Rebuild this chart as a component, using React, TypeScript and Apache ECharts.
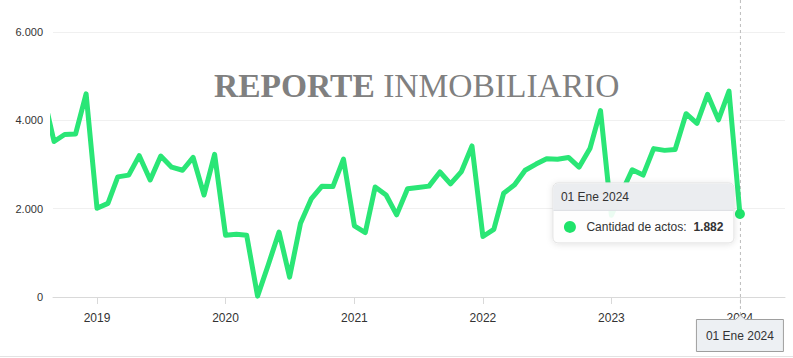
import React, { useEffect, useRef } from "react";
import * as echarts from "echarts";

// Monthly data (YYYY-MM) and values: "Cantidad de actos"
const months: string[] = [
  "2018-08", "2018-09", "2018-10", "2018-11", "2018-12",
  "2019-01", "2019-02", "2019-03", "2019-04", "2019-05", "2019-06", "2019-07", "2019-08", "2019-09", "2019-10", "2019-11", "2019-12",
  "2020-01", "2020-02", "2020-03", "2020-04", "2020-05", "2020-06", "2020-07", "2020-08", "2020-09", "2020-10", "2020-11", "2020-12",
  "2021-01", "2021-02", "2021-03", "2021-04", "2021-05", "2021-06", "2021-07", "2021-08", "2021-09", "2021-10", "2021-11", "2021-12",
  "2022-01", "2022-02", "2022-03", "2022-04", "2022-05", "2022-06", "2022-07", "2022-08", "2022-09", "2022-10", "2022-11", "2022-12",
  "2023-01", "2023-02", "2023-03", "2023-04", "2023-05", "2023-06", "2023-07", "2023-08", "2023-09", "2023-10", "2023-11", "2023-12",
  "2024-01",
];
const actos: number[] = [
  4600, 3520, 3680, 3690, 4600,
  2010, 2120, 2720, 2760, 3200, 2650, 3190, 2940, 2870, 3160, 2310, 3230,
  1400, 1420, 1400, 20, 720, 1470, 450, 1670, 2230, 2510, 2500, 3120,
  1610, 1460, 2490, 2310, 1860, 2450, 2480, 2510, 2830, 2560, 2840, 3420,
  1370, 1530, 2350, 2540, 2870, 3010, 3130, 3120, 3160, 2940, 3360, 4220,
  1850, 2400, 2880, 2760, 3360, 3320, 3340, 4150, 3930, 4590, 4010, 4660,
  1882,
];
const yearTicks: string[] = ["2019", "2020", "2021", "2022", "2023", "2024"];
const seriesName = "Cantidad de actos";
const watermarkBold = "REPORTE";
const watermarkRegular = "INMOBILIARIO";
const tooltipDate = "01 Ene 2024";
const xMinDate = "2018-08-29";
const xMaxDate = "2024-05-08";

const GREEN = "#2ae676";
const MARKER = "#1fe36a";

const toTs = (s: string) => {
  const p = s.split("-").map(Number);
  return Date.UTC(p[0], p[1] - 1, p[2] || 1);
};
const fmtNum = (v: number) =>
  String(Math.round(v)).replace(/\B(?=(\d{3})+(?!\d))/g, ".");

export default function App() {
  const ref = useRef<HTMLDivElement>(null);

  useEffect(() => {
    if (!ref.current) return;
    const chart = echarts.init(ref.current, undefined, { renderer: "svg" });
    const data = months.map((m, i) => [toTs(m), actos[i]]);
    const last = data[data.length - 1];
    const font = "'Liberation Sans', Arial, sans-serif";
    const serif = "'Liberation Serif', 'Times New Roman', serif";
    const yearTs = yearTicks.map((y) => toTs(y + "-01-01"));

    chart.setOption({
      animation: false,
      grid: { left: 53, right: 8, top: 32, bottom: 61, outerBoundsMode: "none" },
      xAxis: {
        type: "value",
        min: toTs(xMinDate),
        max: toTs(xMaxDate),
        axisLine: { show: true, lineStyle: { color: "#d9d9d9", width: 1 } },
        axisTick: {
          show: true,
          length: 7,
          customValues: yearTs,
          lineStyle: { color: "#d9d9d9" },
        },
        axisLabel: {
          customValues: yearTs,
          formatter: (v: number) => String(new Date(v).getUTCFullYear()),
          color: "#333",
          fontSize: 12,
          fontFamily: font,
          margin: 15,
        },
        splitLine: { show: false },
      },
      yAxis: {
        type: "value",
        min: 0,
        max: 6000,
        interval: 2000,
        axisLine: { show: false },
        axisTick: { show: false },
        axisLabel: {
          formatter: (v: number) => fmtNum(v),
          color: "#333",
          fontSize: 11,
          fontFamily: font,
          margin: 10,
          padding: [0, 0, 3, 0],
        },
        splitLine: { lineStyle: { color: "#f0f0f0", width: 1 } },
      },
      series: [
        {
          name: seriesName,
          type: "line",
          data,
          showSymbol: false,
          clip: true,
          lineStyle: { color: GREEN, width: 5, cap: "round", join: "round" },
          itemStyle: { color: GREEN },
          z: 3,
        },
        {
          type: "scatter",
          data: [last],
          symbol: "circle",
          symbolSize: 10,
          itemStyle: { color: MARKER, opacity: 1 },
          z: 6,
        },
      ],
    });

    const [px, py] = chart.convertToPixel({ xAxisIndex: 0, yAxisIndex: 0 }, last) as number[];
    const bottomY = chart.convertToPixel({ yAxisIndex: 0 }, 0) as number;

    const tx = px - 187;
    const ty = py - 31;
    const tw = 181;
    const th = 60;
    const hh = 27;

    const bx0 = px - 44;
    const bx1 = px + 44;
    const by0 = bottomY + 22;
    const by1 = bottomY + 55;

    chart.setOption({
      graphic: [
        {
          type: "text",
          left: 214,
          top: 68,
          z: 1,
          style: {
            text: "{b|" + watermarkBold + "} " + watermarkRegular,
            fontFamily: serif,
            fontSize: 33.5,
            fill: "#808080",
            rich: {
              b: {
                fontFamily: serif,
                fontSize: 33.5,
                fontWeight: "bold",
                fill: "#808080",
              },
            },
          },
        },
        {
          type: "line",
          z: 2,
          shape: { x1: px + 0.5, y1: 0, x2: px + 0.5, y2: by0 - 4 },
          style: { stroke: "#bdbdbd", lineWidth: 1, lineDash: [3, 3] },
        },
        {
          type: "line",
          z: 1,
          shape: { x1: 0, y1: 356.5, x2: 793, y2: 356.5 },
          style: { stroke: "#e3e3e3", lineWidth: 1 },
        },
        {
          type: "rect",
          z: 60,
          shape: { x: tx, y: ty, width: tw, height: th, r: 5 },
          style: {
            fill: "rgba(255,255,255,0.9)",
            stroke: "#e2e2e2",
            lineWidth: 1,
            shadowBlur: 6,
            shadowColor: "rgba(0,0,0,0.12)",
            shadowOffsetY: 1,
          },
        },
        {
          type: "rect",
          z: 61,
          shape: { x: tx + 0.5, y: ty + 0.5, width: tw - 1, height: hh, r: [5, 5, 0, 0] },
          style: { fill: "rgba(234,236,239,0.93)" },
        },
        {
          type: "line",
          z: 62,
          shape: { x1: tx + 0.5, y1: ty + hh + 0.5, x2: tx + tw - 0.5, y2: ty + hh + 0.5 },
          style: { stroke: "#dcdfe3", lineWidth: 1 },
        },
        {
          type: "text",
          z: 63,
          x: tx + 8,
          y: ty + hh / 2 + 1,
          style: {
            text: tooltipDate,
            fontFamily: font,
            fontSize: 12,
            fill: "#333",
            verticalAlign: "middle",
          },
        },
        {
          type: "circle",
          z: 63,
          shape: { cx: tx + 17, cy: ty + 44, r: 6 },
          style: { fill: MARKER },
        },
        {
          type: "text",
          z: 63,
          x: tx + 33.5,
          y: ty + 44,
          style: {
            text: seriesName + ":",
            fontFamily: font,
            fontSize: 12,
            fill: "#333",
            verticalAlign: "middle",
          },
        },
        {
          type: "text",
          z: 63,
          x: tx + tw - 10.5,
          y: ty + 44,
          style: {
            text: fmtNum(last[1]),
            fontFamily: font,
            fontSize: 12,
            fontWeight: "bold",
            fill: "#333",
            align: "right",
            verticalAlign: "middle",
          },
        },
        {
          type: "polygon",
          z: 70,
          shape: {
            points: [
              [bx0 + 0.5, by0 + 0.5],
              [px - 4.5, by0 + 0.5],
              [px + 0.5, by0 - 4],
              [px + 5.5, by0 + 0.5],
              [bx1 - 0.5, by0 + 0.5],
              [bx1 - 0.5, by1 - 0.5],
              [bx0 + 0.5, by1 - 0.5],
            ],
          },
          style: { fill: "#edf0f3", stroke: "#9e9e9e", lineWidth: 1 },
        },
        {
          type: "text",
          z: 71,
          x: px,
          y: (by0 + by1) / 2,
          style: {
            text: tooltipDate,
            fontFamily: font,
            fontSize: 12,
            fill: "#333",
            align: "center",
            verticalAlign: "middle",
          },
        },
      ],
    });

    return () => chart.dispose();
  }, []);

  return (
    <div
      ref={ref}
      style={{ position: "absolute", left: 0, top: 0, width: 793, height: 358, background: "#fff" }}
    />
  );
}
